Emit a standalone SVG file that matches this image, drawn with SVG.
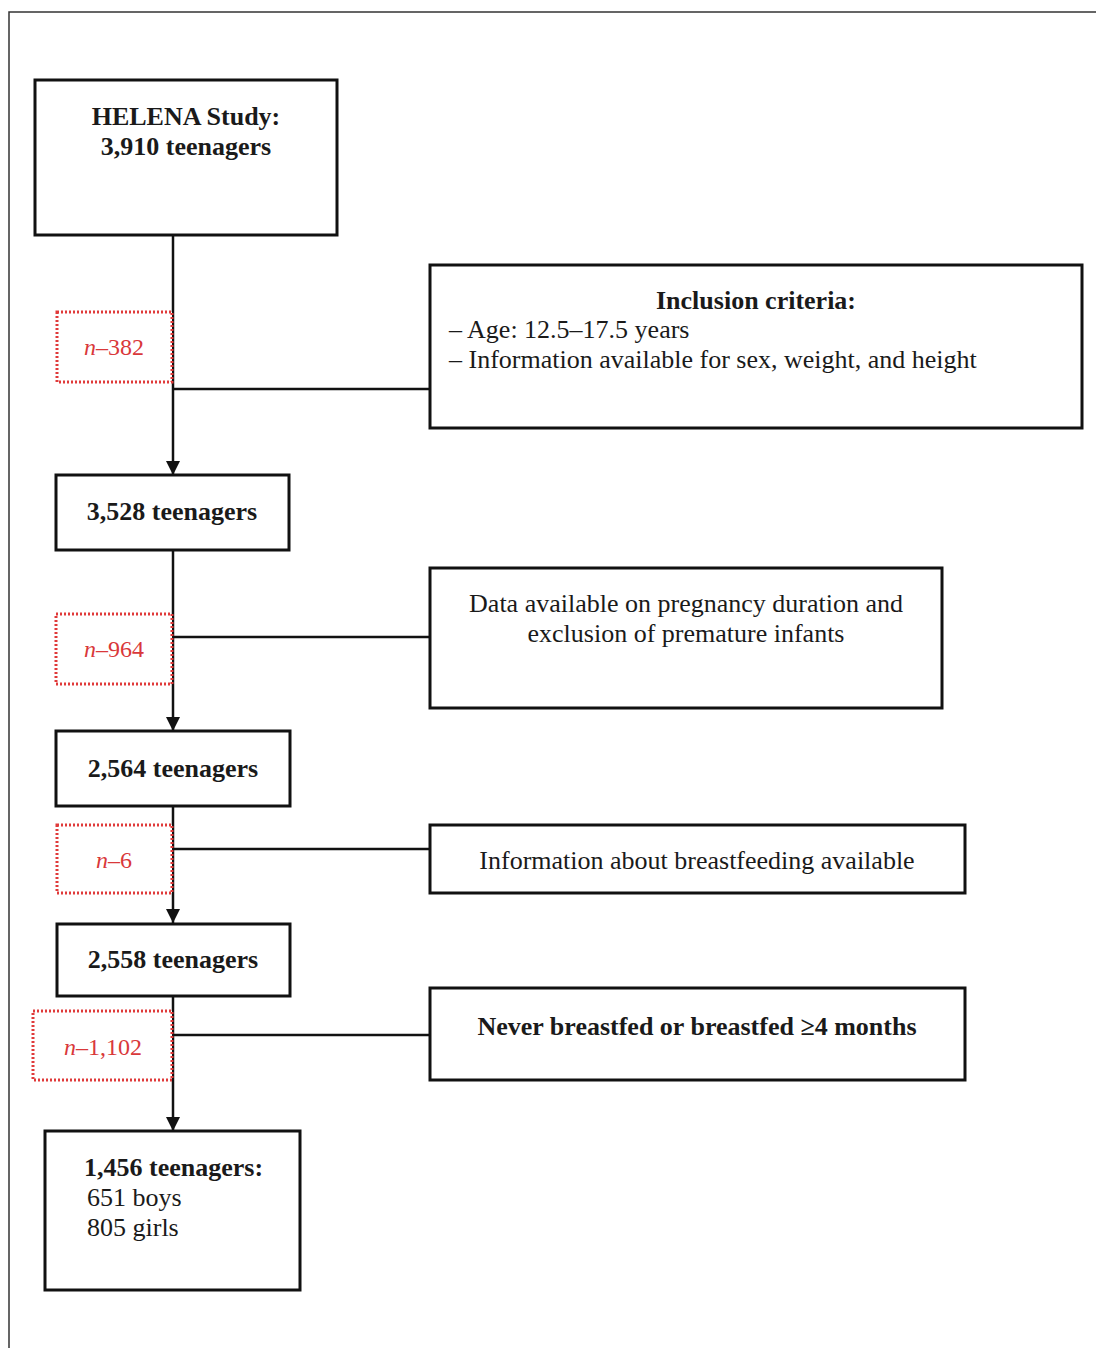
<svg xmlns="http://www.w3.org/2000/svg" width="1096" height="1348" viewBox="0 0 1096 1348">
<style>
.box{fill:#fff;stroke:#111;stroke-width:3}
.ex{fill:#fff;stroke:#e03a3a;stroke-width:3;stroke-dasharray:2 2}
.ln{stroke:#111;stroke-width:2.5;fill:none}
text{font-family:"Liberation Serif","Times New Roman",serif;font-size:26px;fill:#1a1a1a}
.b{font-weight:bold}
.c{text-anchor:middle}
.r{fill:#d9383a;font-size:24px}
</style>
<defs>
<marker id="arr" viewBox="0 0 10 10" refX="10" refY="5" markerWidth="14" markerHeight="14" markerUnits="userSpaceOnUse" orient="auto">
<path d="M0,0 L10,5 L0,10 z" fill="#111"/>
</marker>
</defs>
<rect width="1096" height="1348" fill="#fff"/>
<path d="M9,1348 V12 H1096" fill="none" stroke="#333" stroke-width="1.5"/>

<g id="connectors">
<line class="ln" x1="173" y1="235" x2="173" y2="475" marker-end="url(#arr)"/>
<line class="ln" x1="173" y1="389" x2="430" y2="389"/>
<line class="ln" x1="173" y1="550" x2="173" y2="731" marker-end="url(#arr)"/>
<line class="ln" x1="173" y1="637" x2="430" y2="637"/>
<line class="ln" x1="173" y1="806" x2="173" y2="923" marker-end="url(#arr)"/>
<line class="ln" x1="173" y1="849" x2="430" y2="849"/>
<line class="ln" x1="173" y1="996" x2="173" y2="1131" marker-end="url(#arr)"/>
<line class="ln" x1="173" y1="1035" x2="430" y2="1035"/>
</g>

<g id="n1">
<rect class="box" x="35" y="80" width="302" height="155"/>
<text class="b c" x="186" y="125">HELENA Study:</text>
<text class="b c" x="186" y="155">3,910 teenagers</text>
</g>

<g id="ex1">
<rect class="ex" x="57" y="312" width="115" height="70"/>
<text class="c r" x="114" y="355"><tspan font-style="italic">n</tspan>–382</text>
</g>

<g id="crit1">
<rect class="box" x="430" y="265" width="652" height="163"/>
<text class="b c" x="756" y="309">Inclusion criteria:</text>
<text x="449" y="338">– Age: 12.5–17.5 years</text>
<text x="449" y="368">– Information available for sex, weight, and height</text>
</g>

<g id="n2">
<rect class="box" x="56" y="475" width="233" height="75"/>
<text class="b c" x="172" y="520">3,528 teenagers</text>
</g>

<g id="ex2">
<rect class="ex" x="56" y="614" width="116" height="70"/>
<text class="c r" x="114" y="657"><tspan font-style="italic">n</tspan>–964</text>
</g>

<g id="crit2">
<rect class="box" x="430" y="568" width="512" height="140"/>
<text class="c" x="686" y="612">Data available on pregnancy duration and</text>
<text class="c" x="686" y="642">exclusion of premature infants</text>
</g>

<g id="n3">
<rect class="box" x="56" y="731" width="234" height="75"/>
<text class="b c" x="173" y="777">2,564 teenagers</text>
</g>

<g id="ex3">
<rect class="ex" x="57" y="825" width="115" height="68"/>
<text class="c r" x="114" y="868"><tspan font-style="italic">n</tspan>–6</text>
</g>

<g id="crit3">
<rect class="box" x="430" y="825" width="535" height="68"/>
<text class="c" x="697" y="869">Information about breastfeeding available</text>
</g>

<g id="n4">
<rect class="box" x="57" y="924" width="233" height="72"/>
<text class="b c" x="173" y="968">2,558 teenagers</text>
</g>

<g id="ex4">
<rect class="ex" x="33" y="1011" width="139" height="69"/>
<text class="c r" x="103" y="1055"><tspan font-style="italic">n</tspan>–1,102</text>
</g>

<g id="crit4">
<rect class="box" x="430" y="988" width="535" height="92"/>
<text class="b c" x="697" y="1035">Never breastfed or breastfed ≥4 months</text>
</g>

<g id="n5">
<rect class="box" x="45" y="1131" width="255" height="159"/>
<text class="b" x="84" y="1176">1,456 teenagers:</text>
<text x="87" y="1206">651 boys</text>
<text x="87" y="1236">805 girls</text>
</g>
</svg>
